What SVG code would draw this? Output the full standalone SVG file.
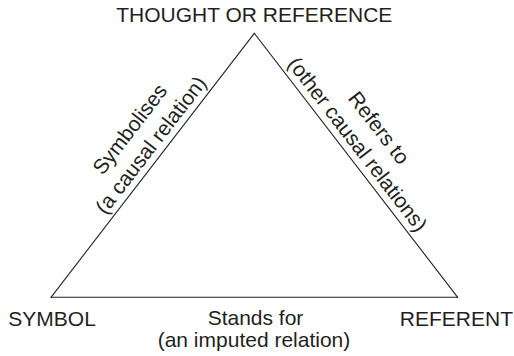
<svg xmlns="http://www.w3.org/2000/svg" width="514" height="356" viewBox="0 0 514 356">
<style>
text{font-family:"Liberation Sans",Arial,sans-serif;font-size:21px;fill:#231f20}
.edge{stroke:#231f20;stroke-width:1.1;fill:none;stroke-linecap:round}
.m{text-anchor:middle}
</style>
<rect width="514" height="356" fill="#fff"/>
<g id="connectors">
<line class="edge" x1="254.3" y1="33.3" x2="51" y2="297.3"/>
<line class="edge" x1="254.3" y1="33.3" x2="457.7" y2="297.3"/>
<line class="edge" x1="51" y1="297.3" x2="457.7" y2="297.3"/>
<g id="label-symbolises" class="m">
<text class="m" transform="translate(135.5,133.5) rotate(-52.4)">Symbolises</text>
<text class="m" transform="translate(156.5,149.3) rotate(-52.4)">(a causal relation)</text>
</g>
<g id="label-refers">
<text class="m" transform="translate(373.3,132.2) rotate(52.4)">Refers to</text>
<text class="m" transform="translate(351.9,148.6) rotate(52.4)">(other causal relations)</text>
</g>
<g id="label-stands">
<text class="m" x="255.5" y="325">Stands for</text>
<text class="m" x="254" y="347">(an imputed relation)</text>
</g>
</g>
<g id="node-thought"><text class="m" x="254.3" y="21.5">THOUGHT OR REFERENCE</text></g>
<g id="node-symbol"><text x="8.3" y="326">SYMBOL</text></g>
<g id="node-referent"><text x="513" y="326" text-anchor="end">REFERENT</text></g>
</svg>
